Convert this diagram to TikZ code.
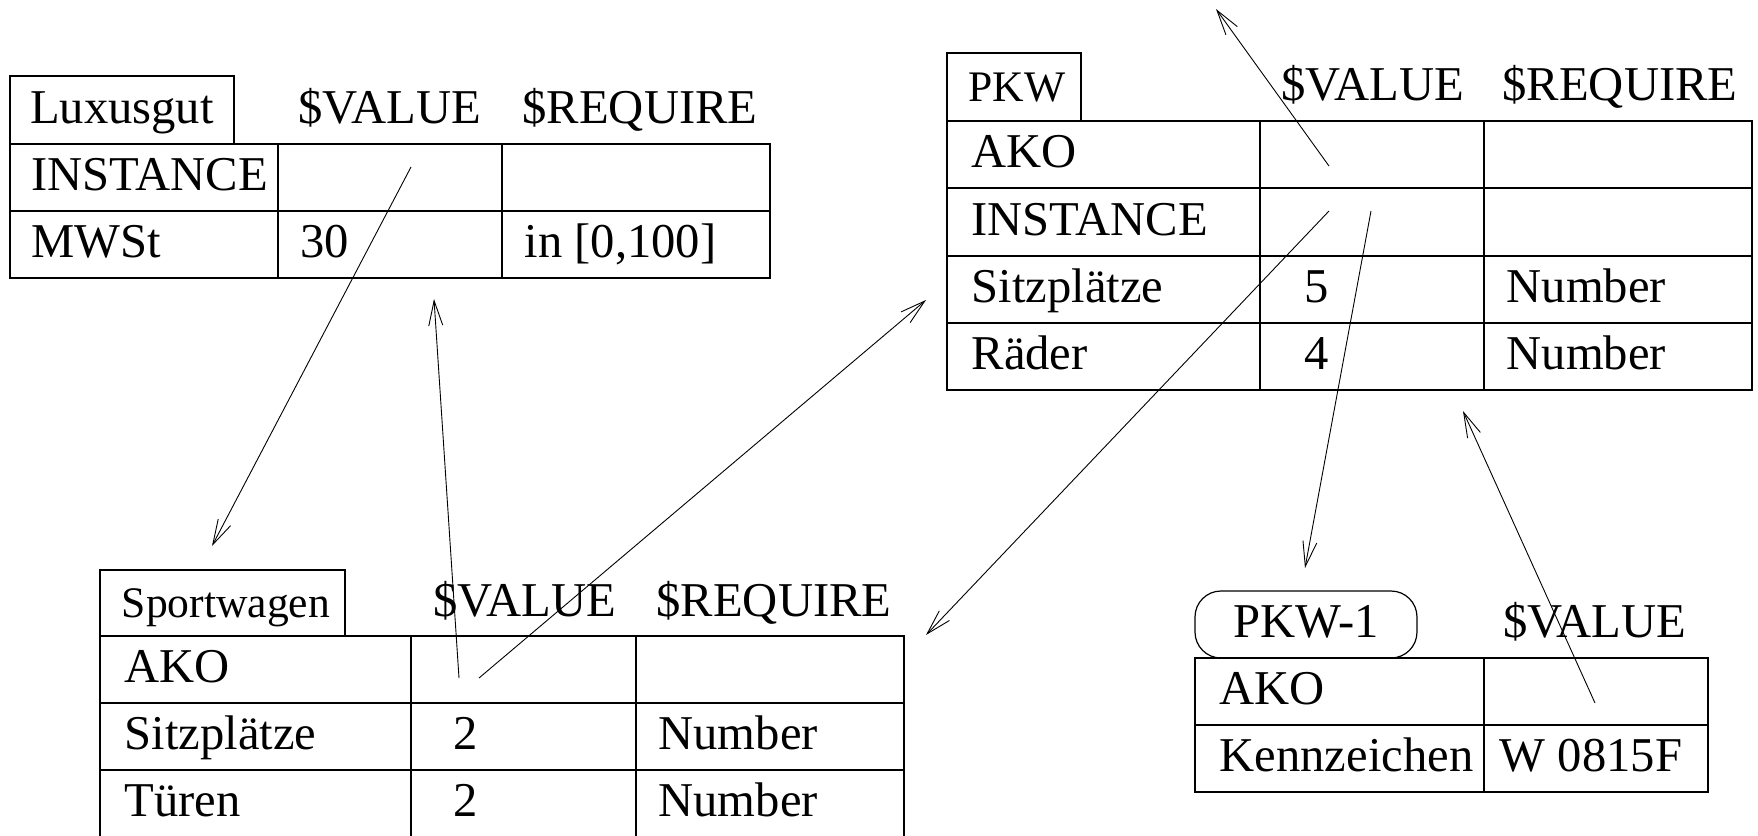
\documentclass[tikz,border=0pt]{standalone}
\usepackage{fontspec}
\setmainfont{Liberation Serif}
\usetikzlibrary{arrows.meta}
\tikzset{
  txt/.style={inner sep=0pt, text height=13pt, text depth=0pt, font=\fontsize{24.3}{29}\selectfont},
  lft/.style={txt, anchor=west},
  ttl/.style={inner sep=0pt, text height=14.5pt, text depth=0pt, font=\fontsize{21.8}{26}\selectfont},
  link/.style={-{Straight Barb[length=12.5pt,width=7pt]}, line width=0.45pt},
}

\begin{document}
\begin{tikzpicture}[x=0.5pt, y=-0.5pt, line width=0.6pt]
    \useasboundingbox (0,0) rectangle (1758,836);
    % Luxusgut
    \draw (10,76) rectangle (234,144) (10,144) rectangle (770,278)
          (10,211) -- (770,211) (278,144) -- (278,278) (502,144) -- (502,278);
    \node[txt] (lux) at (122,110) {Luxusgut};
    \node[txt] (luxval) at (390,110) {\$VALUE};
    \node[txt] (luxreq) at (640,110) {\$REQUIRE};
    \node[lft] (luxinst) at (31,177.5) {INSTANCE};
    \node[lft] (luxmwst) at (31,244.5) {MWSt};
    \node[lft] (luxmwstv) at (300,244.5) {30};
    \node[lft] (luxmwstr) at (524,244.5) {in [0,100]};
    % PKW
    \draw (947,53) rectangle (1081,121) (947,121) rectangle (1752,390)
          (947,188) -- (1752,188) (947,256) -- (1752,256) (947,323) -- (1752,323)
          (1260,121) -- (1260,390) (1484,121) -- (1484,390);
    \node[ttl] (pkw) at (1017,87) {PKW};
    \node[txt] (pkwval) at (1373,87) {\$VALUE};
    \node[txt] (pkwreq) at (1620,87) {\$REQUIRE};
    \node[lft] (pkwako) at (971,154.5) {AKO};
    \node[lft] (pkwinst) at (971,222) {INSTANCE};
    \node[lft] (pkwsitz) at (971,289.5) {Sitzplätze};
    \node[txt] (pkwsitzv) at (1317,289.5) {5};
    \node[lft] (pkwsitzr) at (1506,289.5) {Number};
    \node[lft] (pkwrad) at (971,356.5) {Räder};
    \node[txt] (pkwradv) at (1317,356.5) {4};
    \node[lft] (pkwradr) at (1506,356.5) {Number};
    % Sportwagen
    \draw (100,570) rectangle (345,636)
          (100,845) -- (100,636) -- (904,636) -- (904,845)
          (100,703) -- (904,703) (100,770) -- (904,770)
          (411,636) -- (411,845) (636,636) -- (636,845);
    \node[ttl] (sport) at (226,603) {Sportwagen};
    \node[txt] (sportval) at (525,603) {\$VALUE};
    \node[txt] (sportreq) at (774,603) {\$REQUIRE};
    \node[lft] (sportako) at (124,669.5) {AKO};
    \node[lft] (sportsitz) at (124,736.5) {Sitzplätze};
    \node[txt] (sportsitzv) at (466,736.5) {2};
    \node[lft] (sportsitzr) at (658,736.5) {Number};
    \node[lft] (sporttur) at (124,803) {Türen};
    \node[txt] (sportturv) at (466,803) {2};
    \node[lft] (sportturr) at (658,803) {Number};
    % PKW-1
    \draw[rounded corners=13pt] (1195,658) rectangle (1417,591);
    \draw (1195,658) rectangle (1708,792) (1195,725) -- (1708,725) (1484,658) -- (1484,792);
    \node[txt] (inst) at (1306,624) {PKW-1};
    \node[txt] (instval) at (1595,624) {\$VALUE};
    \node[lft] (instako) at (1219,691.5) {AKO};
    \node[lft] (instkz) at (1219,758.5) {Kennzeichen};
    \node[txt] (instkzv) at (1591,758.5) {W 0815F};
    % slot links
    \coordinate (luxi) at (411,167);
    \coordinate (sporttop) at (212,546);
    \coordinate (sporta) at (459,678);
    \coordinate (sportb) at (479,678);
    \coordinate (luxbot) at (434,299);
    \coordinate (pkwleft) at (926,300);
    \coordinate (pkwa) at (1329,166);
    \coordinate (pkwup) at (1216,9);
    \coordinate (pkwi) at (1329,211);
    \coordinate (pkwj) at (1371,211);
    \coordinate (sportright) at (926,635);
    \coordinate (insttop) at (1305,568);
    \coordinate (insta) at (1595,703);
    \coordinate (pkwbot) at (1463,411);
    \draw[link] (luxi) -- (sporttop);
    \draw[link] (sporta) -- (luxbot);
    \draw[link] (sportb) -- (pkwleft);
    \draw[link] (pkwa) -- (pkwup);
    \draw[link] (pkwi) -- (sportright);
    \draw[link] (pkwj) -- (insttop);
    \draw[link] (insta) -- (pkwbot);
\end{tikzpicture}
\end{document}
